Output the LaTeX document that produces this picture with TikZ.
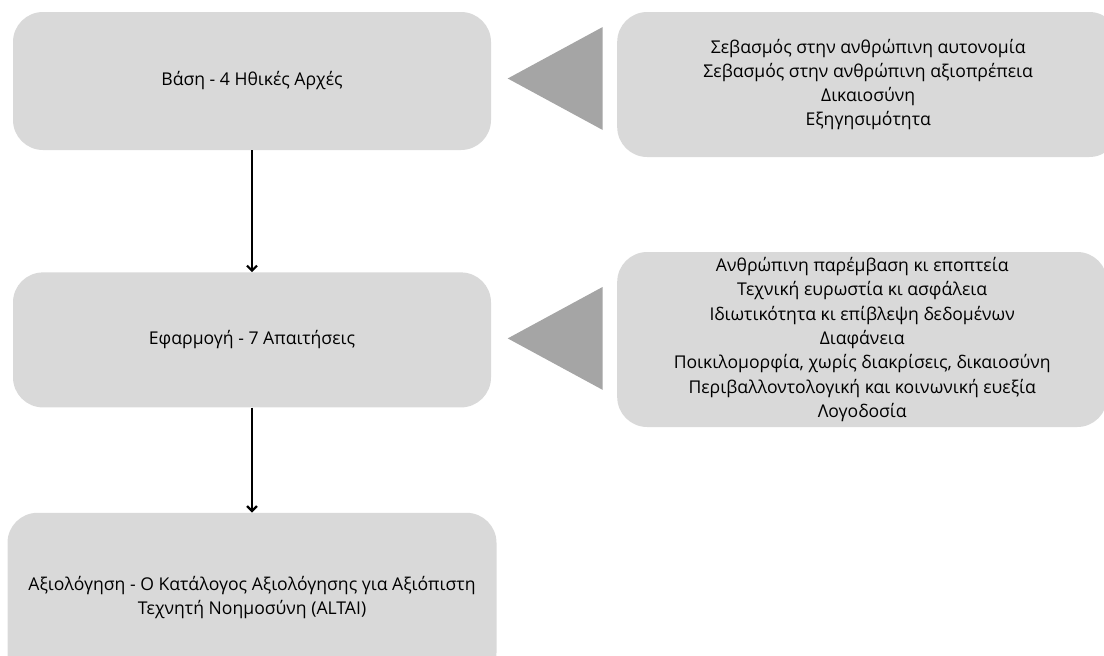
\documentclass[tikz,border=0pt]{standalone}
\usepackage{fontspec}
\setmainfont{Open Sans}
\usepackage{tikz}
\usetikzlibrary{positioning, arrows.meta, shapes.geometric}

\definecolor{boxgray}{HTML}{D9D9D9}
\definecolor{pointgray}{HTML}{A5A5A5}

\begin{document}
\begin{tikzpicture}[
    x=1pt, y=1pt,
    font=\fontsize{17.6}{24.3}\selectfont,
    box/.style={rectangle, rounded corners=30pt, fill=boxgray, align=center, inner sep=0pt, minimum width=478pt},
    pointer/.style={isosceles triangle, isosceles triangle stretches, shape border rotate=180, fill=pointgray, inner sep=0pt, minimum width=103pt, minimum height=95pt, anchor=apex},
    arrow/.style={-{Straight Barb[length=5pt,width=10pt]}, line width=2.2pt, draw=black}
]
\useasboundingbox (0,0) rectangle (1104,-656);

% Left column
\node[box, minimum height=138pt] (basis) at (252,-81) {Βάση - 4 Ηθικές Αρχές};
\node[box, below=122pt of basis, minimum height=135pt] (apply) {Εφαρμογή - 7 Απαιτήσεις};
\node[box, below=105pt of apply, minimum height=170pt, minimum width=489pt] (eval) {Αξιολόγηση - Ο Κατάλογος Αξιολόγησης για Αξιόπιστη\\Τεχνητή Νοημοσύνη (ALTAI)};

% Pointers
\node[pointer] (ptr1) at ([xshift=16pt, yshift=2.5pt]basis.east) {};
\node[pointer] (ptr2) at ([xshift=16pt, yshift=1.5pt]apply.east) {};

% Right column
\node[box, anchor=west, minimum width=502pt, minimum height=145pt] (principles) at (617,-84.5) {Σεβασμός στην ανθρώπινη αυτονομία\\Σεβασμός στην ανθρώπινη αξιοπρέπεια\\Δικαιοσύνη\\Εξηγησιμότητα};
\node[box, anchor=west, minimum width=490pt, minimum height=175pt] (reqs) at (617,-339.5) {Ανθρώπινη παρέμβαση κι εποπτεία\\Τεχνική ευρωστία κι ασφάλεια\\Ιδιωτικότητα κι επίβλεψη δεδομένων\\Διαφάνεια\\Ποικιλομορφία, χωρίς διακρίσεις, δικαιοσύνη\\Περιβαλλοντολογική και κοινωνική ευεξία\\Λογοδοσία};

% Edges
\draw[arrow] (basis) -- (apply);
\draw[arrow] (apply) -- (eval);
\end{tikzpicture}
\end{document}
